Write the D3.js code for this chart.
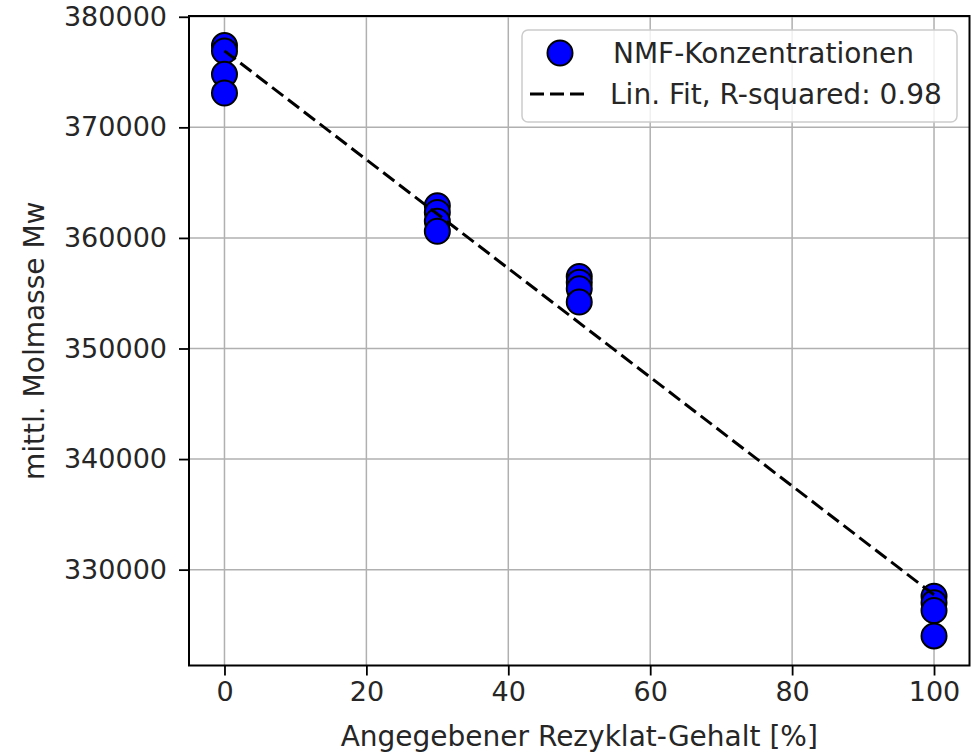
<!DOCTYPE html>
<html>
<head>
<meta charset="utf-8">
<script src="https://cdn.jsdelivr.net/npm/d3@7"></script>
<style>
  body { margin: 0; background: #fff; }
  svg text { font-family: "DejaVu Sans", sans-serif; fill: #262626; }
</style>
</head>
<body>
<script>
'use strict';

// recycled content per sample and measured Mw
const rezyklat = [0, 0, 0, 0, 30, 30, 30, 30, 50, 50, 50, 50, 100, 100, 100, 100];
const molmasse = [377400, 376900, 374800, 373100,
                  362900, 362300, 361500, 360600,
                  356500, 356000, 355400, 354200,
                  327600, 327000, 326300, 324000];
const xTicks = [0, 20, 40, 60, 80, 100];
const yTicks = [330000, 340000, 350000, 360000, 370000, 380000];
const legendLabels = ["NMF-Konzentrationen", "Lin. Fit, R-squared: 0.98"];

const width = 971, height = 754;
const margin = {top: 16, right: 1.5, bottom: 88.5, left: 189};

const svg = d3.select('body').append('svg')
  .attr('width', width)
  .attr('height', height);

const data = rezyklat.map((x, i) => ({x: x, y: molmasse[i]}));

// axis limits with 5% padding, like matplotlib
let xExt = d3.extent(rezyklat), yExt = d3.extent(molmasse);
let xPad = (xExt[1] - xExt[0]) * 0.05, yPad = (yExt[1] - yExt[0]) * 0.05;

const x = d3.scaleLinear()
  .domain([xExt[0] - xPad, xExt[1] + xPad])
  .range([margin.left, width - margin.right]);
const y = d3.scaleLinear()
  .domain([yExt[0] - yPad, yExt[1] + yPad])
  .range([height - margin.bottom, margin.top]);

// grid
svg.append('g').selectAll('line')
  .data(xTicks).enter().append('line')
  .attr('x1', d => x(d)).attr('x2', d => x(d))
  .attr('y1', margin.top).attr('y2', height - margin.bottom)
  .attr('stroke', '#b0b0b0').attr('stroke-width', 1.5);
svg.append('g').selectAll('line')
  .data(yTicks).enter().append('line')
  .attr('y1', d => y(d)).attr('y2', d => y(d))
  .attr('x1', margin.left).attr('x2', width - margin.right)
  .attr('stroke', '#b0b0b0').attr('stroke-width', 1.5);

// least squares fit
let mx = d3.mean(rezyklat), my = d3.mean(molmasse);
let sxy = d3.sum(data, d => (d.x - mx) * (d.y - my));
let sxx = d3.sum(data, d => (d.x - mx) * (d.x - mx));
let slope = sxy / sxx, intercept = my - slope * mx;
const fit = [0, 100].map(v => ({x: v, y: intercept + slope * v}));

// points
svg.append('g').selectAll('circle')
  .data(data).enter().append('circle')
  .attr('cx', d => x(d.x))
  .attr('cy', d => y(d.y))
  .attr('r', 12.5)
  .attr('fill', '#0000ff')
  .attr('stroke', '#000')
  .attr('stroke-width', 2);

// fit line
svg.append('path')
  .datum(fit)
  .attr('d', d3.line().x(d => x(d.x)).y(d => y(d.y)))
  .attr('fill', 'none')
  .attr('stroke', '#000')
  .attr('stroke-width', 3)
  .style('stroke-dasharray', '14,6');

// axes
const xAxis = svg.append('g')
  .attr('transform', 'translate(0,' + (height - margin.bottom) + ')')
  .call(d3.axisBottom(x).tickValues(xTicks).tickSize(10).tickPadding(6).tickFormat(d3.format('d')));
const yAxis = svg.append('g')
  .attr('transform', 'translate(' + margin.left + ',0)')
  .call(d3.axisLeft(y).tickValues(yTicks).tickSize(10).tickPadding(12).tickFormat(d3.format('d')));
[xAxis, yAxis].forEach(a => {
  a.select('.domain').remove();
  a.selectAll('.tick line').attr('stroke', '#000').attr('stroke-width', 1.8);
  a.selectAll('.tick text').style('font-size', '27px').attr('fill', '#262626')
    .style('font-family', '"DejaVu Sans", sans-serif');
});

// frame
svg.append('rect')
  .attr('x', margin.left).attr('y', margin.top)
  .attr('width', width - margin.right - margin.left)
  .attr('height', height - margin.bottom - margin.top)
  .attr('fill', 'none').attr('stroke', '#000').attr('stroke-width', 2);

// axis labels
svg.append('text')
  .attr('x', (margin.left + width - margin.right) / 2)
  .attr('y', 746)
  .attr('text-anchor', 'middle')
  .style('font-size', '28px')
  .text('Angegebener Rezyklat-Gehalt [%]');

svg.append('text')
  .attr('transform', 'translate(44,' + ((margin.top + height - margin.bottom) / 2) + ')rotate(-90)')
  .attr('text-anchor', 'middle')
  .style('font-size', '28px')
  .text('mittl. Molmasse Mw');

// legend
const lg = svg.append('g');
lg.append('rect')
  .attr('x', 522).attr('y', 30)
  .attr('width', 435).attr('height', 92)
  .attr('rx', 6)
  .attr('fill', '#fff').attr('fill-opacity', 0.8)
  .attr('stroke', '#cccccc').attr('stroke-width', 1.5);
lg.append('circle')
  .attr('cx', 560).attr('cy', 53).attr('r', 12.5)
  .attr('fill', '#0000ff').attr('stroke', '#000').attr('stroke-width', 2);
lg.append('line')
  .attr('x1', 530).attr('x2', 590).attr('y1', 94).attr('y2', 94)
  .attr('stroke', '#000').attr('stroke-width', 3)
  .style('stroke-dasharray', '14,6');
lg.selectAll('.lbl')
  .data(legendLabels).enter().append('text')
  .attr('class', 'lbl')
  .attr('x', (d, i) => i === 0 ? 613 : 610)
  .attr('y', (d, i) => 63 + i * 41)
  .style('font-size', '28px')
  .text(d => d);
</script>
</body>
</html>
